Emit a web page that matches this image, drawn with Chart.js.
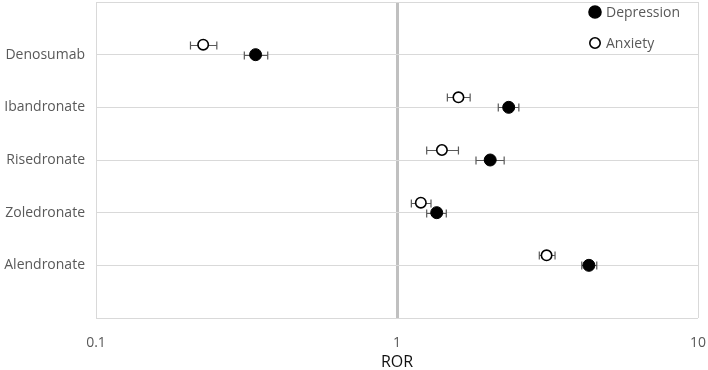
<!DOCTYPE html>
<html>
<head>
<meta charset="utf-8">
<script src="https://cdn.jsdelivr.net/npm/chart.js@4/dist/chart.umd.min.js"></script>
<style>
  html, body { margin: 0; padding: 0; background: #fff; }
  #wrap { width: 708px; height: 370px; position: relative; }
</style>
</head>
<body>
<div id="wrap"><canvas id="forest"></canvas></div>
<script>
(function () {
  "use strict";

  // ─── Data ──────────────────────────────────────────────────────────────────

  const drugs = ["Denosumab", "Ibandronate", "Risedronate", "Zoledronate", "Alendronate"];
  const rows = [5, 4, 3, 2, 1]; // top to bottom

  const depRor = [0.339, 2.35, 2.04, 1.355, 4.34];
  const depLow = [0.311, 2.17, 1.83, 1.255, 4.11];
  const depHigh = [0.372, 2.54, 2.27, 1.458, 4.61];

  const anxRor = [0.227, 1.60, 1.41, 1.20, 3.14];
  const anxLow = [0.206, 1.47, 1.255, 1.116, 2.97];
  const anxHigh = [0.252, 1.75, 1.60, 1.297, 3.35];

  const xTicks = [0.1, 1, 10];
  const anxShift = 0.19; // anxiety sits a little above its row

  const FONT = "'Open Sans', 'Noto Sans', sans-serif";
  const GREY = "#595959";

  // no automatic room for edge labels, the plot fills the box
  function noPad(s) {
    s.paddingLeft = 0; s.paddingRight = 0;
    s.paddingTop = 0; s.paddingBottom = 0;
  }

  // ─── Plugins ───────────────────────────────────────────────────────────────

  // horizontal CI whiskers, drawn under the markers
  const errorBars = {
    id: "errorBars",
    beforeDatasetsDraw(chart) {
      const { ctx, scales: { x, y } } = chart;
      const sets = [
        { lo: depLow, hi: depHigh, dy: 0 },
        { lo: anxLow, hi: anxHigh, dy: anxShift },
      ];
      ctx.save();
      ctx.strokeStyle = GREY;
      ctx.lineWidth = 1.2;
      sets.forEach((s) => {
        rows.forEach((r, i) => {
          const py = Math.round(y.getPixelForValue(r + s.dy)) + 0.5;
          const x1 = x.getPixelForValue(s.lo[i]);
          const x2 = x.getPixelForValue(s.hi[i]);
          ctx.beginPath();
          ctx.moveTo(x1, py); ctx.lineTo(x2, py);
          ctx.moveTo(x1, py - 4); ctx.lineTo(x1, py + 4);
          ctx.moveTo(x2, py - 4); ctx.lineTo(x2, py + 4);
          ctx.stroke();
        });
      });
      ctx.restore();
    },
  };

  // legend sits inside the plot, top right
  const innerLegend = {
    id: "innerLegend",
    afterDraw(chart) {
      const { ctx, chartArea } = chart;
      const mx = chartArea.right - 103;
      const items = chart.data.datasets.map((ds, i) => ({
        label: ds.label, fill: ds.backgroundColor, y: chartArea.top + 10 + i * 31,
        r: ds.pointRadius,
      }));
      ctx.save();
      ctx.font = "14px " + FONT;
      ctx.textBaseline = "middle";
      items.forEach((it) => {
        ctx.beginPath();
        ctx.arc(mx, it.y, it.r, 0, Math.PI * 2);
        ctx.fillStyle = it.fill;
        ctx.fill();
        ctx.lineWidth = 1.6;
        ctx.strokeStyle = "#000";
        ctx.stroke();
        ctx.fillStyle = GREY;
        ctx.fillText(it.label, mx + 11, it.y + 1);
      });
      ctx.restore();
    },
  };

  // ─── Chart ─────────────────────────────────────────────────────────────────

  new Chart(document.getElementById("forest"), {
    type: "scatter",
    data: {
      datasets: [
        {
          label: "Depression",
          data: rows.map((r, i) => ({ x: depRor[i], y: r })),
          backgroundColor: "#000",
          borderColor: "#000",
          borderWidth: 1,
          pointRadius: 6,
        },
        {
          label: "Anxiety",
          data: rows.map((r, i) => ({ x: anxRor[i], y: r + anxShift })),
          backgroundColor: "#fff",
          borderColor: "#000",
          borderWidth: 1.6,
          pointRadius: 5.2,
        },
      ],
    },
    options: {
      responsive: true,
      maintainAspectRatio: false,
      animation: false,
      layout: { autoPadding: false, padding: { left: 0, right: 10, top: 2, bottom: 0 } },
      plugins: {
        legend: { display: false },
        tooltip: { enabled: false },
      },
      scales: {
        x: {
          type: "logarithmic",
          min: 0.1,
          max: 10,
          afterBuildTicks: (s) => { s.ticks = xTicks.map((v) => ({ value: v })); },
          afterFit: (s) => { s.height = 52; noPad(s); },
          grid: {
            color: (c) => (c.tick && c.tick.value === 1 ? "#c0c0c0" : "#d9d9d9"),
            lineWidth: (c) => (c.tick && c.tick.value === 1 ? 3 : 1),
            drawTicks: false,
          },
          border: { display: false },
          ticks: {
            padding: 17,
            color: GREY,
            font: { family: FONT, size: 14 },
            callback: (v) => String(v),
            maxRotation: 0,
          },
          title: {
            display: true,
            text: "ROR",
            color: "#111",
            font: { family: FONT, size: 16 },
            padding: { top: 0, bottom: -2 },
          },
        },
        y: {
          type: "linear",
          min: 0,
          max: 6,
          afterBuildTicks: (s) => {
            s.ticks = [0, 1, 2, 3, 4, 5, 6].map((v) => ({ value: v }));
          },
          afterFit: (s) => { s.width = 96; noPad(s); },
          grid: { color: "#d9d9d9", lineWidth: 1, drawTicks: false },
          border: { display: false },
          ticks: {
            padding: 11,
            color: GREY,
            font: { family: FONT, size: 14 },
            callback: (v) => {
              const i = rows.indexOf(v);
              return i >= 0 ? drugs[i] : "";
            },
          },
        },
      },
    },
    plugins: [errorBars, innerLegend],
  });
})();
</script>
</body>
</html>
